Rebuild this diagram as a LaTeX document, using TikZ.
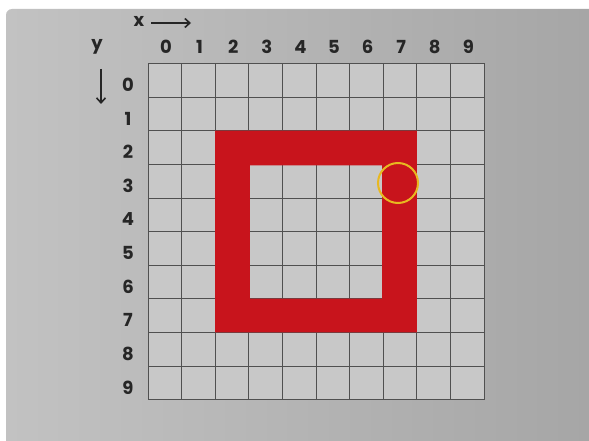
\documentclass[tikz,border=0pt]{standalone}
\usepackage{fontspec}
\setmainfont{Poppins}
\usetikzlibrary{arrows.meta}
\definecolor{paperA}{HTML}{C2C2C2}
\definecolor{paperB}{HTML}{A6A6A6}
\definecolor{cellgray}{HTML}{C8C8C8}
\definecolor{gridline}{HTML}{505050}
\definecolor{marker}{HTML}{C8141C}
\definecolor{ring}{HTML}{E8B820}
\definecolor{ink}{HTML}{262626}
\tikzset{
  lbl/.style={font=\fontsize{18}{18}\selectfont\bfseries, text=ink, inner sep=0pt},
  gline/.style={draw=gridline, line width=0.7pt},
  axarrow/.style={draw=ink, line width=1.6pt, -{Straight Barb[length=5pt,width=9pt]}},
}
\begin{document}
\begin{tikzpicture}[x=1pt,y=-1pt]
\useasboundingbox (0,0) rectangle (589,441);
\fill[white] (0,0) rectangle (589,441);
\shade[left color=paperA, right color=paperB] (6,441) -- (6,15) [rounded corners=6pt] -- (6,9) [sharp corners] -- (589,9) -- (589,441) -- cycle;
% grid area
\fill[cellgray] (148,63.5) rectangle (484,399.5);
% grid lines
\foreach \i in {0,...,10} {
  \draw[gline] ({148+33.6*\i},63.5) -- ({148+33.6*\i},399.5);
  \draw[gline] (148,{63.5+33.6*\i}) -- (484,{63.5+33.6*\i});
}
% red hollow square
\fill[marker, even odd rule] (215.2,130.7) rectangle (416.8,332.3) (249.8,165.3) rectangle (382.2,298.7);
% ring
\node[draw=ring, line width=2pt, circle, minimum size=40pt, inner sep=0pt] (ring) at (398,183) {};
% column labels
\foreach \i in {0,...,9} {
  \node[lbl] (c\i) at ({166+33.6*\i},47) {\i};
}
% row labels
\foreach \i in {0,...,9} {
  \node[lbl] (r\i) at (128,{85+33.6*\i}) {\i};
}
% axis labels
\node[lbl] (xl) at (139,21) {x};
\coordinate (xa0) at (151,23);
\coordinate (xa1) at (191,23);
\draw[axarrow] (xa0) -- (xa1);
\node[lbl] (yl) at (97,47) {y};
\coordinate (ya0) at (101,69);
\coordinate (ya1) at (101,104);
\draw[axarrow] (ya0) -- (ya1);
\end{tikzpicture}
\end{document}
